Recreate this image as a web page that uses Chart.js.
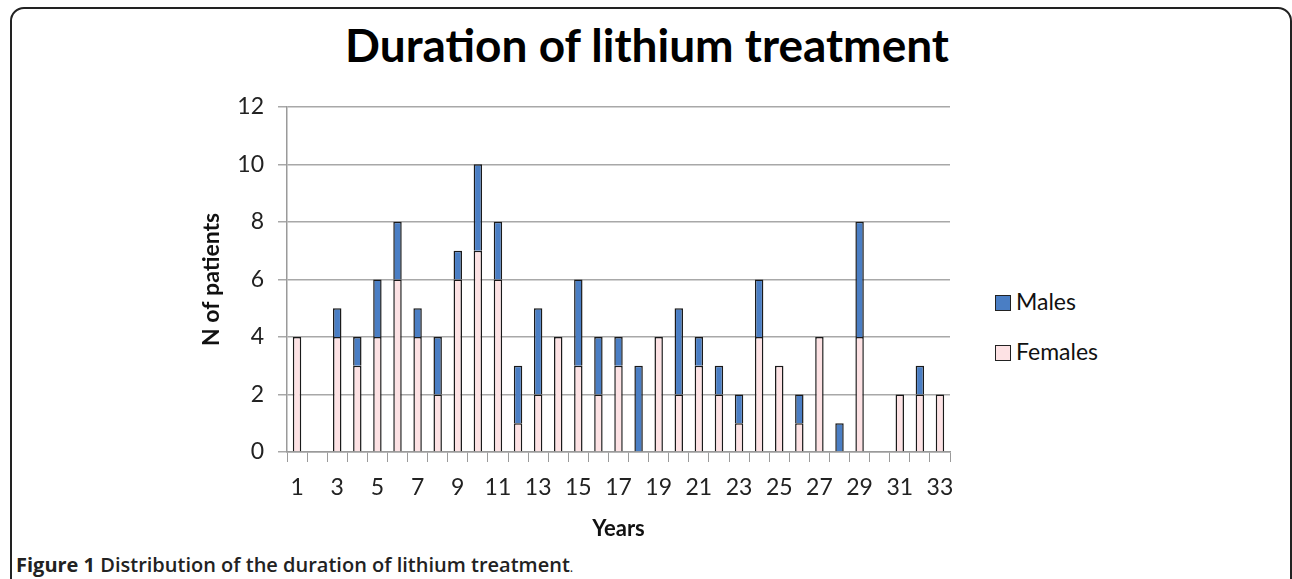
<!DOCTYPE html>
<html>
<head>
<meta charset="utf-8">
<script src="https://cdn.jsdelivr.net/npm/chart.js@4/dist/chart.umd.min.js"></script>
<style>
  body { margin: 0; background: #fff; width: 1292px; height: 579px; overflow: hidden; position: relative; font-family: Lato, "Open Sans", sans-serif; }
  .frame { position: absolute; left: 10px; top: 7px; width: 1278px; height: 620px; border: 2px solid #222; border-radius: 14px; }
  .title { position: absolute; left: 0; width: 1292px; top: 17px; text-align: center; font-weight: 700; font-size: 46px; color: #000; }
  .title span { position: relative; left: 1px; }
  #wrap { position: absolute; left: 150px; top: 79px; width: 830px; height: 471px; }
  .legend { position: absolute; left: 995px; top: 287px; font-size: 23px; color: #111; }
  .legend div { height: 50px; display: flex; align-items: flex-start; }
  .legend i { display: inline-block; width: 14px; height: 14px; border: 1px solid #222; margin: 8px 5px 0 0; }
  .caption { position: absolute; left: 16px; top: 551px; font-size: 20px; color: #222; font-family: "Open Sans", Lato, sans-serif; font-weight: 600; }
  .caption b { font-weight: 700; }
  .caption small { font-weight: 400; font-size: 13px; }
</style>
</head>
<body>
<div class="frame"></div>
<div class="title"><span>Duration of lithium treatment</span></div>
<div id="wrap"><canvas id="chart"></canvas></div>
<div class="legend" id="legend"></div>
<div class="caption"><b>Figure 1</b> Distribution of the duration of lithium treatment<small>.</small></div>

<script>
// years of treatment (x categories)
const years = ['1','2','3','4','5','6','7','8','9','10','11','12','13','14','15','16','17',
               '18','19','20','21','22','23','24','25','26','27','28','29','30','31','32','33'];
// patient counts per year
const females = [4,0,4,3,4,6,4,2,6,7,6,1,2,4,3,2,3,0,4,2,3,2,1,4,3,1,4,0,4,0,2,2,2];
const males   = [0,0,1,1,2,2,1,2,1,3,2,2,3,0,3,2,1,3,0,3,1,1,1,2,0,1,0,1,4,0,0,1,0];
const yTicks = [0, 2, 4, 6, 8, 10, 12];

const maleColor = '#4a7ec4';
const femaleColor = '#fde2e4';

// legend drawn as html so it sits where the original has it
const legendItems = [['Males', maleColor], ['Females', femaleColor]];
document.getElementById('legend').innerHTML = legendItems
    .map(([name, col]) => `<div><i style="background:${col}"></i>${name}</div>`).join('');

const axisFont = { family: 'Lato', size: 23 };

new Chart(document.getElementById('chart'), {
    type: 'bar',
    data: {
        labels: years,
        datasets: [
            { label: 'Females', data: females, backgroundColor: femaleColor, borderColor: '#1a1a1a', borderWidth: 1.5 },
            { label: 'Males', data: males, backgroundColor: maleColor, borderColor: '#1a1a1a', borderWidth: 1.5 }
        ]
    },
    options: {
        responsive: true,
        maintainAspectRatio: false,
        animation: false,
        barPercentage: 0.42,
        categoryPercentage: 1,
        layout: { padding: { top: 11, right: 30, left: 0, bottom: 0 } },
        plugins: { legend: { display: false }, tooltip: { enabled: false } },
        scales: {
            x: {
                stacked: true,
                grid: { offset: true, drawOnChartArea: false, drawTicks: true, tickLength: 10, color: '#9a9a9a' },
                border: { color: '#9a9a9a', width: 1.5 },
                ticks: {
                    autoSkip: false, maxRotation: 0, padding: 12, color: '#222', font: axisFont,
                    callback: (v, i) => i % 2 === 0 ? years[i] : ''
                },
                title: { display: true, text: 'Years', color: '#111', font: { family: 'Lato', size: 22, weight: 'bold' }, padding: { top: 8, bottom: 8 } },
                afterFit: s => { s.height = 98; }
            },
            y: {
                stacked: true,
                min: 0,
                max: 12,
                afterBuildTicks: s => { s.ticks = yTicks.map(v => ({ value: v })); },
                grid: { color: '#a8a8a8', lineWidth: 1.5, tickLength: 9 },
                border: { color: '#9a9a9a', width: 1.5 },
                ticks: { padding: 14, color: '#222', font: axisFont },
                title: { display: true, text: 'N of patients', color: '#111', font: { family: 'Lato', size: 23, weight: 'bold' }, padding: { top: 48, bottom: 0 } },
                afterFit: s => { s.width = 137; }
            }
        }
    }
});
</script>
</body>
</html>
